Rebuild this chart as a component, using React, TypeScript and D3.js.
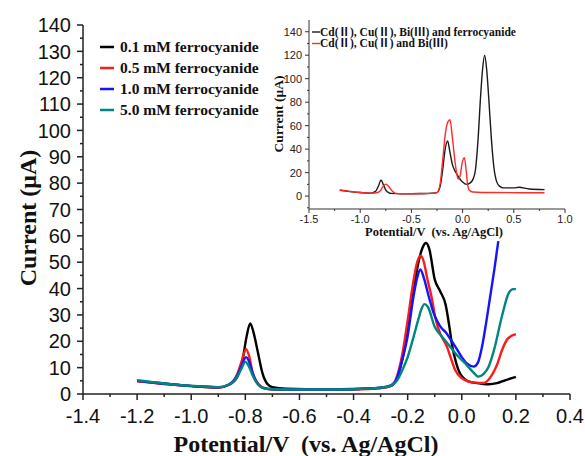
import React from 'react';
import * as d3 from 'd3';

// main chart: DPV at four ferrocyanide levels
const blackV = [-1.2, -1.1, -1.0, -0.9, -0.86, -0.83, -0.81, -0.795, -0.782, -0.77, -0.755, -0.737, -0.72, -0.7, -0.65, -0.5, -0.4, -0.3, -0.26, -0.24, -0.22, -0.2, -0.18, -0.16, -0.145, -0.132, -0.12, -0.1, -0.08, -0.06, -0.045, -0.035, -0.02, -0.01, 0.02, 0.05, 0.08, 0.1, 0.13, 0.16, 0.2];
const blackI = [5, 4, 3.1, 2.5, 3.5, 6.5, 13, 22, 26.8, 23.5, 16.5, 8, 4, 2.6, 2, 1.8, 1.9, 2.3, 3.2, 6, 13, 24, 38, 50, 55.5, 57.3, 55, 43.5, 39, 34, 25, 18, 11.5, 8.5, 5, 4.2, 3.8, 3.7, 4.1, 5.2, 6.5];

const redV = [-1.2, -1.1, -1.0, -0.9, -0.86, -0.83, -0.815, -0.797, -0.785, -0.773, -0.76, -0.748, -0.73, -0.7, -0.6, -0.5, -0.4, -0.3, -0.26, -0.24, -0.22, -0.2, -0.18, -0.165, -0.152, -0.14, -0.128, -0.11, -0.098, -0.08, -0.055, -0.04, -0.024, 0, 0.025, 0.05, 0.08, 0.11, 0.13, 0.15, 0.17, 0.2];
const redI = [4.8, 3.8, 3, 2.4, 3.6, 7.5, 12, 17, 14, 8, 5, 3.4, 2.2, 1.7, 1.6, 1.6, 1.7, 2.3, 3.2, 6.5, 15, 28, 42, 50, 52.5, 50, 44, 36, 29, 23, 18, 13.5, 9, 6, 4.7, 4.3, 4.2, 7, 11, 17, 21, 22.7];

const blueV = [-1.2, -1.1, -1.0, -0.9, -0.86, -0.83, -0.815, -0.797, -0.785, -0.773, -0.76, -0.745, -0.73, -0.7, -0.6, -0.5, -0.4, -0.3, -0.26, -0.24, -0.22, -0.2, -0.18, -0.165, -0.153, -0.14, -0.122, -0.105, -0.09, -0.075, -0.06, -0.04, -0.024, 0, 0.02, 0.044, 0.06, 0.075, 0.09, 0.105, 0.12, 0.135];
const blueI = [5, 3.9, 3, 2.5, 3.6, 7, 10.5, 14, 12, 8, 4.8, 3, 2.2, 1.8, 1.7, 1.7, 1.8, 2.4, 3.4, 6, 13, 22, 36, 44, 47.3, 44, 37, 31, 27.5, 25, 23.5, 20.5, 18, 14, 11.5, 10.4, 12, 18, 27, 37, 47, 58];

const tealV = [-1.2, -1.1, -1.0, -0.9, -0.86, -0.83, -0.815, -0.8, -0.787, -0.773, -0.76, -0.745, -0.73, -0.7, -0.6, -0.5, -0.4, -0.3, -0.26, -0.24, -0.22, -0.2, -0.18, -0.16, -0.148, -0.138, -0.125, -0.1, -0.075, -0.048, -0.02, 0.013, 0.04, 0.062, 0.08, 0.1, 0.12, 0.148, 0.173, 0.19, 0.2];
const tealI = [5.2, 4, 3.1, 2.6, 3.6, 6.5, 9.5, 12.2, 10.5, 7, 4.5, 2.8, 2.1, 1.8, 1.7, 1.7, 1.8, 2.4, 3.3, 5, 9, 14, 21, 28.5, 32.5, 34.1, 33, 25.5, 22, 18.6, 15, 11.6, 8.5, 6.6, 7.5, 10.5, 17, 29.3, 38.2, 39.8, 39.8];

const mainLabels = ['0.1 mM ferrocyanide', '0.5 mM ferrocyanide', '1.0 mM ferrocyanide', '5.0 mM ferrocyanide'];
const mainColors = ['#000000', '#ff1a1a', '#1414ff', '#00857f'];

// inset: with and without ferrocyanide
const insetBlackV = [-1.2, -1.1, -1.0, -0.9, -0.85, -0.82, -0.797, -0.775, -0.75, -0.72, -0.7, -0.6, -0.5, -0.4, -0.3, -0.25, -0.22, -0.195, -0.17, -0.146, -0.125, -0.1, -0.075, -0.058, -0.03, 0.0, 0.04, 0.07, 0.1, 0.125, 0.15, 0.175, 0.195, 0.215, 0.235, 0.255, 0.28, 0.305, 0.33, 0.36, 0.4, 0.5, 0.55, 0.65, 0.8];
const insetBlackI = [5, 3.8, 3, 2.5, 4, 9, 13.7, 10, 5, 2.8, 2.3, 2, 2, 2.2, 2.5, 3, 8, 22, 40, 47, 38, 27, 21.5, 19, 15, 12, 10, 11, 14, 22, 47, 84, 108, 120, 108, 84, 50, 25, 13, 8.5, 7, 7, 7.5, 6, 5.5];

const insetRedV = [-1.2, -1.1, -1.0, -0.9, -0.83, -0.8, -0.775, -0.748, -0.72, -0.69, -0.66, -0.6, -0.4, -0.3, -0.25, -0.22, -0.195, -0.17, -0.145, -0.123, -0.1, -0.075, -0.055, -0.042, -0.025, -0.005, 0.017, 0.035, 0.05, 0.066, 0.1, 0.3, 0.8];
const insetRedI = [5.2, 4, 3, 2.5, 3, 5, 8.5, 10.2, 8, 4.5, 2.5, 2, 2, 2.3, 3, 10, 30, 52, 63, 65, 50, 30, 18, 14.5, 17, 28, 32.7, 22, 9, 5, 3.5, 3, 2.8];

const insetLabels = ['Cd(Ⅱ), Cu(Ⅱ), Bi(Ⅲ) and ferrocyanide', 'Cd(Ⅱ), Cu(Ⅱ) and Bi(Ⅲ)'];
const insetColors = ['#1a1a1a', '#ff2a2a'];

const sans = '"Liberation Sans", Arial, sans-serif';
const serif = '"Liberation Serif", "Times New Roman", serif';
const serifCjk = '"Liberation Serif", "Noto Sans CJK SC", serif';

const W = 585;
const H = 456;

// plain hyphen instead of d3's unicode minus
const fmt = (v: number) => d3.format('.1f')(v).replace('−', '-');

const App = () => {
    // main scales
    const x = d3.scaleLinear().domain([-1.4, 0.4]).range([83, 570]);
    const y = d3.scaleLinear().domain([0, 140]).range([394, 25]);

    const line = d3.line<[number, number]>()
        .x((d) => x(d[0]))
        .y((d) => y(d[1]))
        .curve(d3.curveMonotoneX);

    const mainSeries = [
        d3.zip(blackV, blackI),
        d3.zip(redV, redI),
        d3.zip(blueV, blueI),
        d3.zip(tealV, tealI),
    ] as [number, number][][];

    const xMajor = d3.range(-1.4, 0.41, 0.2);
    const xMinor = d3.range(-1.3, 0.4, 0.2);
    const yMajor = d3.range(0, 141, 10);
    const yMinor = d3.range(5, 140, 10);

    // inset scales
    const ix = d3.scaleLinear().domain([-1.5, 1.0]).range([309, 565]);
    const iy = d3.scaleLinear().domain([-11, 150]).range([209, 20]);
    const iline = d3.line<[number, number]>()
        .x((d) => ix(d[0]))
        .y((d) => iy(d[1]))
        .curve(d3.curveMonotoneX);
    const insetSeries = [
        d3.zip(insetBlackV, insetBlackI),
        d3.zip(insetRedV, insetRedI),
    ] as [number, number][][];
    const ixMajor = d3.range(-1.5, 1.01, 0.5);
    const ixMinor = d3.range(-1.25, 1.0, 0.5);
    const iyMajor = d3.range(0, 141, 20);
    const iyMinor = d3.range(-10, 150, 20);

    return (
        <svg width={W} height={H} style={{ position: 'absolute', left: 0, top: 0, background: '#fff' }}>
            {/* main axes */}
            <g stroke="#222" strokeWidth={1.5}>
                <line x1={83} x2={83} y1={y(140)} y2={y(0)} />
                <line x1={83} x2={570} y1={394} y2={394} />
                {yMajor.map((v) => <line key={'ym' + v} x1={77} x2={83} y1={y(v)} y2={y(v)} />)}
                {yMinor.map((v) => <line key={'yn' + v} x1={80} x2={83} y1={y(v)} y2={y(v)} />)}
                {xMajor.map((v) => <line key={'xm' + v} x1={x(v)} x2={x(v)} y1={394} y2={400} />)}
                {xMinor.map((v) => <line key={'xn' + v} x1={x(v)} x2={x(v)} y1={394} y2={397} />)}
            </g>
            <g fontFamily={sans} fontSize={20} fill="#111">
                {yMajor.map((v) => (
                    <text key={'yl' + v} x={71} y={y(v)} dy="0.36em" textAnchor="end">{v}</text>
                ))}
                {xMajor.map((v) => (
                    <text key={'xl' + v} x={x(v)} y={423} textAnchor="middle">{fmt(v)}</text>
                ))}
            </g>
            <text x={306} y={452} textAnchor="middle" fontFamily={serif} fontWeight="bold" fontSize={24} fill="#111" style={{ whiteSpace: 'pre' }}>
                {'Potential/V  (vs. Ag/AgCl)'}
            </text>
            <text transform="translate(36,218) rotate(-90)" textAnchor="middle" fontFamily={serif} fontWeight="bold" fontSize={24} fill="#111">
                Current (μA)
            </text>

            {/* main curves */}
            {mainSeries.map((s, i) => (
                <path key={'s' + i} d={line(s) ?? ''} fill="none" stroke={mainColors[i]} strokeWidth={2.4} />
            ))}

            {/* main legend */}
            {mainLabels.map((t, i) => (
                <g key={'lg' + i} transform={`translate(0,${47 + i * 21})`}>
                    <line x1={100} x2={114} y1={0} y2={0} stroke={mainColors[i]} strokeWidth={2.5} />
                    <text x={120} y={0} dy="0.33em" fontFamily={serif} fontWeight="bold" fontSize={15.5} fill="#111">{t}</text>
                </g>
            ))}

            {/* inset axes */}
            <g stroke="#333" strokeWidth={1}>
                <line x1={309} x2={309} y1={20} y2={209} />
                <line x1={309} x2={565} y1={209} y2={209} />
                {iyMajor.map((v) => <line key={'iym' + v} x1={305} x2={309} y1={iy(v)} y2={iy(v)} />)}
                {iyMinor.map((v) => <line key={'iyn' + v} x1={307} x2={309} y1={iy(v)} y2={iy(v)} />)}
                {ixMajor.map((v) => <line key={'ixm' + v} x1={ix(v)} x2={ix(v)} y1={209} y2={213} />)}
                {ixMinor.map((v) => <line key={'ixn' + v} x1={ix(v)} x2={ix(v)} y1={209} y2={211} />)}
            </g>
            <g fontFamily={sans} fontSize={11} fill="#222">
                {iyMajor.map((v) => (
                    <text key={'iyl' + v} x={302} y={iy(v)} dy="0.36em" textAnchor="end">{v}</text>
                ))}
                {ixMajor.map((v) => (
                    <text key={'ixl' + v} x={ix(v)} y={223} textAnchor="middle">{fmt(v)}</text>
                ))}
            </g>
            <text x={434} y={236} textAnchor="middle" fontFamily={serif} fontWeight="bold" fontSize={12.5} fill="#111" style={{ whiteSpace: 'pre' }}>
                {'Potential/V  (vs. Ag/AgCl)'}
            </text>
            <text transform="translate(283,114) rotate(-90)" textAnchor="middle" fontFamily={serif} fontWeight="bold" fontSize={13.5} fill="#111">
                Current (μA)
            </text>

            {insetSeries.map((s, i) => (
                <path key={'is' + i} d={iline(s) ?? ''} fill="none" stroke={insetColors[i]} strokeWidth={1.4} />
            ))}

            {insetLabels.map((t, i) => (
                <g key={'ilg' + i} transform={`translate(0,${32 + i * 11.5})`}>
                    <line x1={312} x2={320} y1={0} y2={0} stroke={insetColors[i]} strokeWidth={1.4} />
                    <text x={320} y={0} dy="0.33em" fontFamily={serifCjk} fontWeight="bold" fontSize={11.5} fill="#111">{t}</text>
                </g>
            ))}
        </svg>
    );
};

export default App;
